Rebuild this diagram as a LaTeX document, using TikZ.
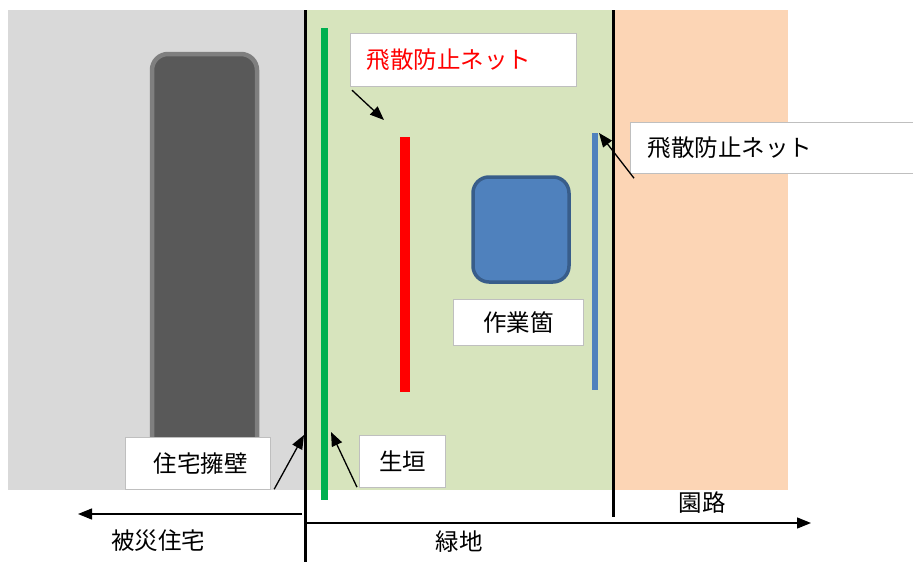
\documentclass[tikz,border=0pt]{standalone}
\usepackage{fontspec}
\setmainfont{Noto Sans CJK JP}
\usetikzlibrary{arrows.meta}
\definecolor{bggray}{HTML}{D9D9D9}
\definecolor{bggreen}{HTML}{D7E4BD}
\definecolor{bgpeach}{HTML}{FCD5B5}
\definecolor{wallfill}{HTML}{595959}
\definecolor{walledge}{HTML}{7F7F7F}
\definecolor{hedge}{HTML}{00B050}
\definecolor{netblue}{HTML}{4F81BD}
\definecolor{blueedge}{HTML}{385D8A}
\definecolor{boxedge}{HTML}{BFBFBF}
\tikzset{
  lbl/.style={draw=boxedge, line width=1.2pt, fill=white, font=\fontsize{23.5}{27}\selectfont, inner sep=0pt},
  plain/.style={font=\fontsize{23.5}{27}\selectfont, inner sep=0pt},
  ptr/.style={-{Triangle[length=14pt,width=11pt]}, line width=1.3pt},
}
\begin{document}
\begin{tikzpicture}[x=1pt,y=-1pt]
\clip (0,0) rectangle (913,562);
\fill[white] (0,0) rectangle (913,562);
% backgrounds
\fill[bggray] (8,10) rectangle (305,490);
\fill[bggreen] (305,10) rectangle (613,490);
\fill[bgpeach] (613,10) rectangle (788,490);
% wall
\draw[walledge, fill=wallfill, line width=4.5pt, rounded corners=16pt] (152,54) rectangle (257,485);
% hedge, nets
\fill[hedge] (320.5,28) rectangle (327.5,500);
\fill[red] (400,137) rectangle (410,392);
\fill[netblue] (592,133) rectangle (598,390);
% work area
\draw[blueedge, fill=netblue, line width=3.5pt, rounded corners=16pt] (473,177) rectangle (569,282);
% boundary lines
\coordinate (b1top) at (305,10);
\coordinate (b1bot) at (305,562);
\coordinate (b2top) at (613,10);
\coordinate (b2bot) at (613,517);
\draw[line width=3pt] (b1top) -- (b1bot);
\draw[line width=3pt] (b2top) -- (b2bot);
% bottom arrows
\coordinate (la0) at (302,514);
\coordinate (la1) at (78,514);
\coordinate (ra0) at (306,523);
\coordinate (ra1) at (811,523);
\draw[ptr] (la0) -- (la1);
\draw[ptr] (ra0) -- (ra1);
% labels
\node[lbl, text=red, anchor=north west, minimum width=226pt, minimum height=53pt, text width=194pt, align=left, inner xsep=16pt] (netred) at (350,33) {飛散防止ネット};
\node[lbl, anchor=north west, minimum width=300pt, minimum height=51pt, text width=266pt, align=left, inner xsep=17pt] (netblk) at (630,122) {飛散防止ネット};
\node[lbl, anchor=north west, minimum width=130pt, minimum height=46pt] (work) at (453,299) {作業箇};
\node[lbl, anchor=north west, minimum width=145pt, minimum height=52pt] (wall) at (125,437) {\hspace{5pt}住宅擁壁};
\node[lbl, anchor=north west, minimum width=86pt, minimum height=52pt] (hedgelbl) at (359,435) {生垣};
\node[plain] (house) at (158,541) {被災住宅};
\node[plain] (green) at (459,542) {緑地};
\node[plain] (road) at (702,503) {園路};
% pointer arrows
\coordinate (t1) at (384,120);
\coordinate (t2) at (599,133);
\coordinate (t3) at (304,435);
\coordinate (t4) at (331,432);
\draw[ptr] (netred.south west) ++(2,3) -- (t1);
\draw[ptr] (netblk.south west) ++(4,4) -- (t2);
\draw[ptr] (wall.south east) ++(3,-1) -- (t3);
\draw[ptr] (hedgelbl.south west) ++(-2,-1) -- (t4);
\end{tikzpicture}
\end{document}
